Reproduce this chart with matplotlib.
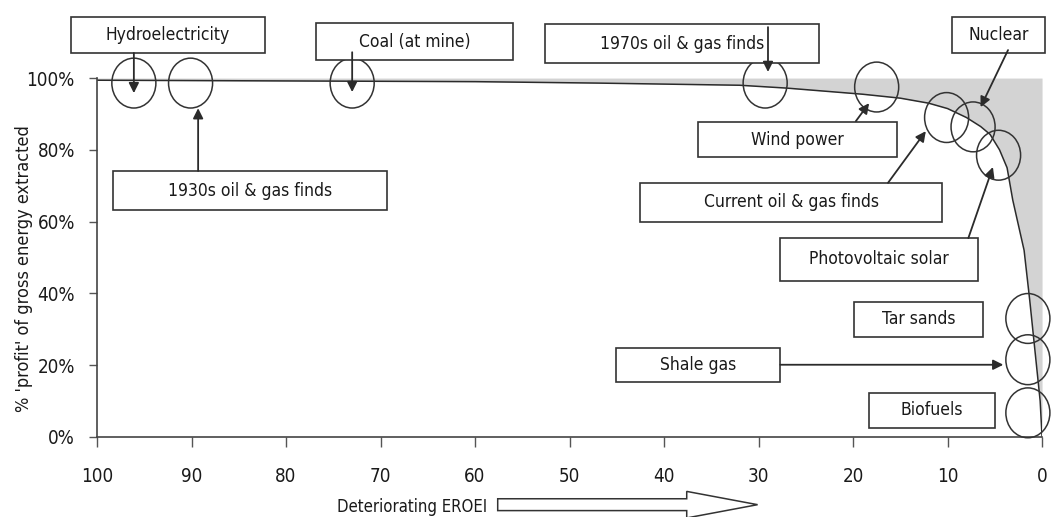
import numpy as np
import matplotlib
matplotlib.use("Agg")
import matplotlib.pyplot as plt
from matplotlib import font_manager as fm
from matplotlib.patches import Rectangle, Ellipse, FancyArrow

# look for a condensed / narrow sans face, the reference uses one
cond = [f for f in fm.fontManager.ttflist
        if (f.stretch in ('condensed', 'semi-condensed', 'extra-condensed')
            or 'Narrow' in f.name or 'Condensed' in f.name)
        and f.style == 'normal' and f.weight in (400, 'normal', 'regular')]
if cond:
    fp_kw = dict(fontproperties=fm.FontProperties(fname=cond[0].fname))
else:
    plt.rcParams['font.family'] = ['Roboto', 'DejaVu Sans']
    fp_kw = {}

# curve: EROEI vs % 'profit' of gross energy
eroei = [100, 80, 60, 47, 32, 27, 19, 15, 12, 10, 8, 6.5, 5.5, 4.5, 3.7, 3.1, 1.9, 1.3, 0.75, 0.2, 0]
profit = [99.4, 99.2, 99.0, 98.6, 98.0, 97.2, 95.5, 94.4, 93.0, 91.5, 89.0, 86.5, 84.3, 80.0,
          75.0, 66.0, 52.0, 38.0, 24.0, 10.0, 0.0]

x_ticks = [100, 90, 80, 70, 60, 50, 40, 30, 20, 10, 0]
y_ticks = [0, 20, 40, 60, 80, 100]

# circled energy sources (EROEI, % profit)
sources = ['Hydroelectricity', '1930s oil & gas finds', 'Coal (at mine)', '1970s oil & gas finds',
           'Wind power', 'Current oil & gas finds', 'Nuclear', 'Photovoltaic solar',
           'Tar sands', 'Shale gas', 'Biofuels']
src_eroei = [96.1, 90.1, 73.0, 29.3, 17.5, 10.1, 7.3, 4.6, 1.5, 1.5, 1.5]
src_profit = [98.6, 98.6, 98.6, 98.6, 97.5, 89.0, 86.4, 78.5, 33.0, 21.5, 6.7]

# label boxes: x1, x2, y1, y2 (data units)
boxes = [
    (102.75, 82.2, 107.0, 117.0),
    (98.3, 69.3, 63.2, 74.1),
    (76.8, 56.0, 105.0, 115.3),
    (52.6, 23.6, 104.2, 115.0),
    (36.4, 15.3, 78.0, 87.7),
    (42.5, 10.6, 59.9, 70.8),
    (9.5, -0.3, 107.0, 117.0),
    (27.7, 6.8, 43.5, 55.4),
    (19.9, 6.2, 27.9, 37.6),
    (45.1, 27.7, 15.3, 24.8),
    (18.3, 5.0, 2.5, 12.3),
]
# arrows from box to circle: (x0, y0) -> (x1, y1); tar sands and biofuels have none
arrows = [
    (96.1, 107.0, 96.1, 95.8),
    (89.3, 74.1, 89.3, 91.6),
    (73.0, 107.2, 73.0, 96.1),
    (29.0, 114.2, 29.0, 101.7),
    (19.7, 88.0, 18.3, 93.0),
    (16.3, 70.8, 12.3, 85.2),
    (3.6, 107.8, 6.5, 91.9),
    (7.8, 55.4, 5.2, 75.2),
    None,
    (27.7, 20.1, 4.1, 20.1),
    None,
]

line_c = '#2b2b2b'
txt_c = '#1a1a1a'

fig = plt.figure(figsize=(10.59, 5.17), dpi=100)
ax = fig.add_axes([0.0916, 0.155, 0.8924, 0.694])

ax.fill_between(eroei, profit, 100, color='#d3d3d3', lw=0, zorder=1)
ax.plot(eroei, profit, color=line_c, lw=1.1, zorder=2)

ax.set_xlim(100, 0)
ax.set_ylim(0, 100)
ax.set_xticks(x_ticks)
ax.set_xticklabels([str(t) for t in x_ticks], color=txt_c, **fp_kw)
ax.set_yticks(y_ticks)
ax.set_yticklabels([f'{t}%' for t in y_ticks], color=txt_c, **fp_kw)
for lab in ax.get_xticklabels() + ax.get_yticklabels():
    lab.set_fontsize(13.5)
ax.tick_params(axis='x', length=7, width=1, color='#555', pad=15)
ax.tick_params(axis='y', length=6, width=1, color='#555', pad=10)
for s in ['top', 'right']:
    ax.spines[s].set_visible(False)
for s in ['left', 'bottom']:
    ax.spines[s].set_color('#444')
    ax.spines[s].set_linewidth(1.2)

yl = fig.text(0.023, 0.48, "% 'profit' of gross energy extracted", rotation=90,
              ha='center', va='center', color=txt_c, **fp_kw)
yl.set_fontsize(13)

# circles
for xe, yp in zip(src_eroei, src_profit):
    ax.add_patch(Ellipse((xe, yp), 4.66, 13.9, fill=False, ec='#333', lw=1.1,
                         clip_on=False, zorder=4))

# boxes and labels
for name, (x1, x2, y1, y2) in zip(sources, boxes):
    ax.add_patch(Rectangle((x1, y1), x2 - x1, y2 - y1, fc='white', ec='#333', lw=1.2,
                           clip_on=False, zorder=5))
    t = ax.text((x1 + x2) / 2, (y1 + y2) / 2, name, ha='center', va='center',
                color=txt_c, zorder=6, clip_on=False, **fp_kw)
    t.set_fontsize(12.5)

for a in arrows:
    if a is None:
        continue
    x0, y0, x1, y1 = a
    ax.annotate('', xy=(x1, y1), xytext=(x0, y0), annotation_clip=False, zorder=7,
                arrowprops=dict(arrowstyle='-|>', color=line_c, lw=1.3,
                                mutation_scale=15, shrinkA=0, shrinkB=0))

# "Deteriorating EROEI" hollow arrow under the axis
t = ax.text(66.7, -19.5, 'Deteriorating EROEI', ha='center', va='center',
            color=txt_c, clip_on=False, **fp_kw)
t.set_fontsize(12)
ax.add_patch(FancyArrow(57.6, -18.9, -27.5, 0, width=3.3, head_width=7.4, head_length=7.5,
                        length_includes_head=True, fill=False, ec='#333', lw=1.1,
                        clip_on=False))

fig.savefig('out.png', dpi=100)
